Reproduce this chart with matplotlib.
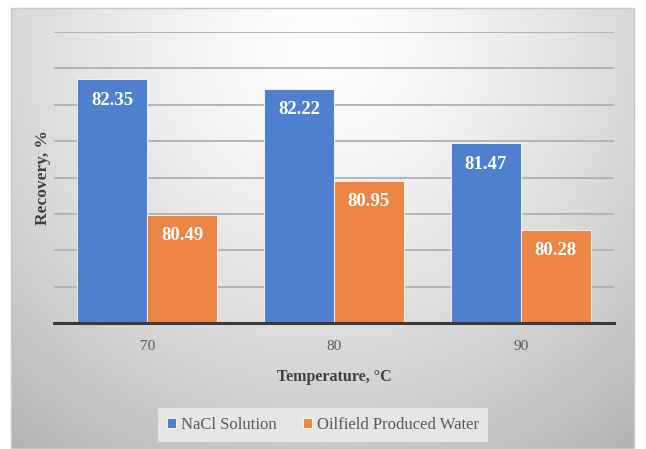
import numpy as np
import matplotlib
matplotlib.use("Agg")
import matplotlib.pyplot as plt
from matplotlib.patches import Rectangle

# data
temperatures = ["70", "80", "90"]
nacl_recovery = [82.35, 82.22, 81.47]
produced_water_recovery = [80.49, 80.95, 80.28]
series_names = ["NaCl Solution", "Oilfield Produced Water"]

blue = "#4f7fcf"
orange = "#ed8544"

plt.rcParams["font.family"] = ["Liberation Serif", "DejaVu Serif"]

W, H = 646, 449
fig = plt.figure(figsize=(W / 100, H / 100), dpi=100)
fig.patch.set_facecolor("white")

# chart area with radial gradient background
x0, y0, x1, y1 = 11, 8, 634, 448
bgAx = fig.add_axes([x0 / W, 1 - y1 / H, (x1 - x0) / W, (y1 - y0) / H], zorder=0)
u, v = np.meshgrid(np.linspace(0, 1, 300), np.linspace(0, 1, 220))
d = np.sqrt(((u - 0.5) / 0.7) ** 2 + ((v - 0.08) / 1.0) ** 2)
gray = np.clip(1.0 - 0.24 * np.clip(d, 0, 1.2) ** 1.4, 0, 1)
bgAx.imshow(np.dstack([gray, gray, gray]), aspect="auto", extent=(0, 1, 1, 0), interpolation="bilinear")
bgAx.set_xlim(0, 1)
bgAx.set_ylim(1, 0)
bgAx.axis("off")
bgAx.add_patch(Rectangle((0, 0), 1, 1, fill=False, edgecolor="#c8c8c8", linewidth=1, transform=bgAx.transAxes, clip_on=False))

# plot area
left, right, top, bottom = 54, 614, 32, 323
ax = fig.add_axes([left / W, 1 - bottom / H, (right - left) / W, (bottom - top) / H], zorder=1)
ax.set_facecolor("none")

x = np.arange(len(temperatures))
width = 0.375
barsA = ax.bar(x - width / 2, nacl_recovery, width, color=blue, edgecolor="white", linewidth=0.6, label=series_names[0], zorder=3)
barsB = ax.bar(x + width / 2, produced_water_recovery, width, color=orange, edgecolor="white", linewidth=0.6, label=series_names[1], zorder=3)

for bars, vals in [(barsA, nacl_recovery), (barsB, produced_water_recovery)]:
    for b, val in zip(bars, vals):
        ax.annotate("{:.2f}".format(val), xy=(b.get_x() + b.get_width() / 2, val), xytext=(0, -15),
                    textcoords="offset points", ha="center", va="center",
                    color="white", fontsize=13.5, fontweight="bold", zorder=4)

ax.set_xlim(-0.5, 2.5)
ax.set_ylim(79, 83)
ax.set_yticks(np.arange(79, 83.01, 0.5))
ax.yaxis.grid(True, color="#b0b0b0", linewidth=1.3, zorder=1)
ax.set_axisbelow(True)
ax.tick_params(axis="y", length=0, labelleft=False)
ax.set_xticks(x)
ax.set_xticklabels(temperatures, fontsize=11, color="#595959")
ax.tick_params(axis="x", length=0, pad=12)

for s in ["top", "right", "left"]:
    ax.spines[s].set_visible(False)
ax.spines["bottom"].set_color("#3a3a3a")
ax.spines["bottom"].set_linewidth(2.2)
ax.spines["bottom"].set_zorder(5)

fig.text(334 / W, 1 - 377 / H, "Temperature, \u00b0C", ha="center", va="center",
         fontsize=11.5, fontweight="bold", color="#404040")
fig.text(43 / W, 1 - 178 / H, "Recovery, %", ha="center", va="center", rotation=90,
         fontsize=12.5, fontweight="bold", color="#404040")

leg = fig.legend(handles=[barsA, barsB], labels=series_names, loc="center",
                 bbox_to_anchor=(323 / W, 1 - 425 / H), ncol=2, frameon=True,
                 fontsize=12, handlelength=0.55, handleheight=0.55, handletextpad=0.3,
                 columnspacing=1.6, borderpad=0.55, fancybox=False, labelcolor="#595959")
for t in leg.get_texts():
    t.set_fontfamily("Liberation Serif")
leg.get_frame().set_facecolor("#e6e6e6")
leg.get_frame().set_edgecolor("none")
leg.get_frame().set_alpha(1)
leg.set_zorder(2)

fig.savefig("out.png", dpi=100)
